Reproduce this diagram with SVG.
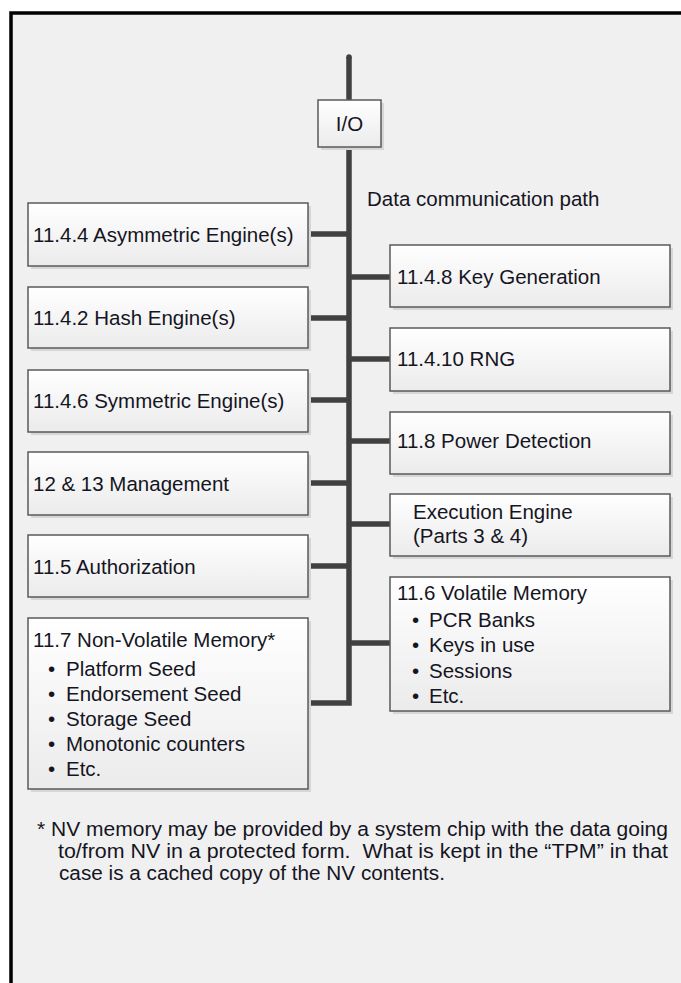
<svg xmlns="http://www.w3.org/2000/svg" width="681" height="983" viewBox="0 0 681 983">
<defs>
<linearGradient id="bg" x1="0" y1="0" x2="0" y2="1">
<stop offset="0" stop-color="#ffffff"/>
<stop offset="1" stop-color="#ebebeb"/>
</linearGradient>
<style>
.box{fill:url(#bg);stroke:#5a5a5a;stroke-width:1.5}
.sh{fill:#d6d6d6}
.t{font-family:"Liberation Sans",Arial,sans-serif;font-size:20.5px;fill:#15151f}
.fn{font-family:"Liberation Sans",Arial,sans-serif;font-size:20px;fill:#15151f;white-space:pre}
.c{fill:none;stroke:#404040;stroke-width:5.5}
</style>
</defs>
<rect x="0" y="0" width="681" height="983" fill="#ffffff"/>
<rect x="11" y="13" width="720" height="1020" fill="#f0f0f0" stroke="#000" stroke-width="3.5"/>

<g id="connectors">
<path class="c" d="M349,57 V703 H308" stroke-linejoin="miter"/>
<circle cx="349" cy="57" r="2.75" fill="#404040"/>
<line class="c" x1="308" y1="234" x2="349" y2="234"/>
<line class="c" x1="308" y1="318" x2="349" y2="318"/>
<line class="c" x1="308" y1="400" x2="349" y2="400"/>
<line class="c" x1="308" y1="483" x2="349" y2="483"/>
<line class="c" x1="308" y1="566" x2="349" y2="566"/>
<line class="c" x1="349" y1="277" x2="390" y2="277"/>
<line class="c" x1="349" y1="359" x2="390" y2="359"/>
<line class="c" x1="349" y1="441" x2="390" y2="441"/>
<line class="c" x1="349" y1="524" x2="390" y2="524"/>
<line class="c" x1="349" y1="643" x2="390" y2="643"/>
</g>

<g id="io">
<rect class="sh" x="321" y="103" width="63" height="47"/>
<rect class="box" x="318" y="100" width="63" height="47"/>
<text class="t" x="349.5" y="131" text-anchor="middle">I/O</text>
</g>

<text id="bus-label" class="t" x="367" y="206">Data communication path</text>

<g id="asym">
<rect class="sh" x="31" y="206" width="280" height="63"/>
<rect class="box" x="28" y="203" width="280" height="63"/>
<text class="t" x="33" y="242">11.4.4 Asymmetric Engine(s)</text>
</g>
<g id="hash">
<rect class="sh" x="31" y="290" width="280" height="61"/>
<rect class="box" x="28" y="287" width="280" height="61"/>
<text class="t" x="33" y="325">11.4.2 Hash Engine(s)</text>
</g>
<g id="sym">
<rect class="sh" x="31" y="373" width="280" height="62"/>
<rect class="box" x="28" y="370" width="280" height="62"/>
<text class="t" x="33" y="408">11.4.6 Symmetric Engine(s)</text>
</g>
<g id="mgmt">
<rect class="sh" x="31" y="455" width="280" height="63"/>
<rect class="box" x="28" y="452" width="280" height="63"/>
<text class="t" x="33" y="491">12 &amp; 13 Management</text>
</g>
<g id="auth">
<rect class="sh" x="31" y="538" width="280" height="62"/>
<rect class="box" x="28" y="535" width="280" height="62"/>
<text class="t" x="33" y="574">11.5 Authorization</text>
</g>
<g id="nvmem">
<rect class="sh" x="31" y="621" width="280" height="171"/>
<rect class="box" x="28" y="618" width="280" height="171"/>
<text class="t" x="33" y="647">11.7 Non-Volatile Memory*</text>
<text class="t"><tspan x="48" y="676">•</tspan><tspan x="66" y="676">Platform Seed</tspan></text>
<text class="t"><tspan x="48" y="701">•</tspan><tspan x="66" y="701">Endorsement Seed</tspan></text>
<text class="t"><tspan x="48" y="726">•</tspan><tspan x="66" y="726">Storage Seed</tspan></text>
<text class="t"><tspan x="48" y="751">•</tspan><tspan x="66" y="751">Monotonic counters</tspan></text>
<text class="t"><tspan x="48" y="776">•</tspan><tspan x="66" y="776">Etc.</tspan></text>
</g>

<g id="keygen">
<rect class="sh" x="393" y="248" width="280" height="62"/>
<rect class="box" x="390" y="245" width="280" height="62"/>
<text class="t" x="397" y="284">11.4.8 Key Generation</text>
</g>
<g id="rng">
<rect class="sh" x="393" y="331" width="280" height="63"/>
<rect class="box" x="390" y="328" width="280" height="63"/>
<text class="t" x="397" y="366">11.4.10 RNG</text>
</g>
<g id="power">
<rect class="sh" x="393" y="415" width="280" height="62"/>
<rect class="box" x="390" y="412" width="280" height="62"/>
<text class="t" x="397" y="448">11.8 Power Detection</text>
</g>
<g id="exec">
<rect class="sh" x="393" y="497" width="280" height="62"/>
<rect class="box" x="390" y="494" width="280" height="62"/>
<text class="t" x="413" y="519">Execution Engine</text>
<text class="t" x="413" y="543">(Parts 3 &amp; 4)</text>
</g>
<g id="volatile">
<rect class="sh" x="393" y="580" width="280" height="134"/>
<rect class="box" x="390" y="577" width="280" height="134"/>
<text class="t" x="397" y="600">11.6 Volatile Memory</text>
<text class="t"><tspan x="412" y="627">•</tspan><tspan x="429" y="627">PCR Banks</tspan></text>
<text class="t"><tspan x="412" y="652">•</tspan><tspan x="429" y="652">Keys in use</tspan></text>
<text class="t"><tspan x="412" y="678">•</tspan><tspan x="429" y="678">Sessions</tspan></text>
<text class="t"><tspan x="412" y="703">•</tspan><tspan x="429" y="703">Etc.</tspan></text>
</g>

<g id="footnote">
<text class="fn" x="37" y="836" textLength="631" lengthAdjust="spacingAndGlyphs">* NV memory may be provided by a system chip with the data going</text>
<text class="fn" x="58" y="858" textLength="610" lengthAdjust="spacingAndGlyphs" xml:space="preserve">to/from NV in a protected form.  What is kept in the “TPM” in that</text>
<text class="fn" x="59" y="880" textLength="386" lengthAdjust="spacingAndGlyphs">case is a cached copy of the NV contents.</text>
</g>
</svg>
